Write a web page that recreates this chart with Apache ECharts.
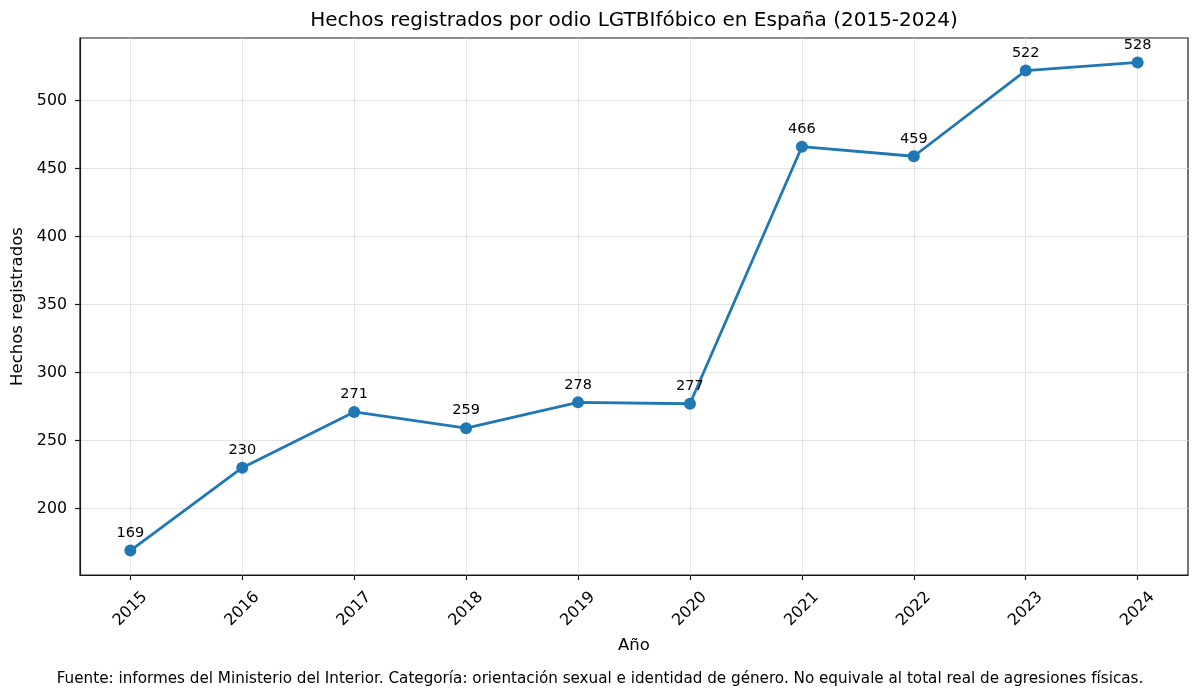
<!DOCTYPE html>
<html><head><meta charset="utf-8">
<script src="https://cdn.jsdelivr.net/npm/echarts@6/dist/echarts.min.js"></script>
<style>html,body{margin:0;padding:0;background:#fff}#c{width:1200px;height:700px}</style>
</head><body><div id="c"></div>
<script>
const years = [2015, 2016, 2017, 2018, 2019, 2020, 2021, 2022, 2023, 2024];
const values = [169, 230, 271, 259, 278, 277, 466, 459, 522, 528];
const yTicks = [200, 250, 300, 350, 400, 450, 500];
const titleText = 'Hechos registrados por odio LGTBIfóbico en España (2015-2024)';
const footText = 'Fuente: informes del Ministerio del Interior. Categoría: orientación sexual e identidad de género. No equivale al total real de agresiones físicas.';
const xName = 'Año';
const yName = 'Hechos registrados';

const font = 'DejaVu Sans';
const chart = echarts.init(document.getElementById('c'), null, {renderer: 'canvas'});
const xMin = years[0] - 0.45, xMax = years[years.length-1] + 0.45;
const vMin = Math.min(...values), vMax = Math.max(...values);
const pad = (vMax - vMin) * 0.05;
chart.setOption({
  animation: false,
  textStyle: {fontFamily: font},
  grid: {left: 80, right: 12, top: 38, bottom: 125, show: true, borderColor: '#1a1a1a', borderWidth: 1.2, containLabel: false, outerBoundsMode: 'none'},
  graphic: [
    {type: 'text', x: 634, y: 21, style: {text: titleText, font: '20px "DejaVu Sans"', fill: '#000', textAlign: 'center', textVerticalAlign: 'middle'}},
    {type: 'text', x: 600, y: 679, style: {text: footText, font: '15.2px "DejaVu Sans"', fill: '#000', textAlign: 'center', textVerticalAlign: 'middle'}}
  ],
  xAxis: {
    type: 'value', min: xMin, max: xMax,
    name: xName, nameLocation: 'middle', nameGap: 62,
    nameTextStyle: {fontSize: 16.5, color: '#000', fontFamily: font},
    axisLine: {show: true, onZero: false, lineStyle: {color: '#1a1a1a', width: 1.2}},
    axisTick: {show: true, inside: false, length: 5, lineStyle: {color: '#1a1a1a', width: 1.2}, customValues: years},
    axisLabel: {rotate: 45, align: 'center', verticalAlign: 'middle', fontSize: 16, color: '#000', fontFamily: font, margin: 34, customValues: years, formatter: v => String(v)},
    splitLine: {show: true, lineStyle: {color: '#e3e3e3', width: 1}}
  },
  yAxis: {
    type: 'value', min: vMin - pad, max: vMax + pad,
    name: yName, nameLocation: 'middle', nameGap: 51,
    nameTextStyle: {fontSize: 16.5, color: '#000', fontFamily: font},
    axisLine: {show: true, onZero: false, lineStyle: {color: '#1a1a1a', width: 1.2}},
    axisTick: {show: true, inside: false, length: 5, lineStyle: {color: '#1a1a1a', width: 1.2}, customValues: yTicks},
    axisLabel: {fontSize: 15.8, color: '#000', fontFamily: font, margin: 13, customValues: yTicks},
    splitLine: {show: true, lineStyle: {color: '#e3e3e3', width: 1}}
  },
  series: [{
    type: 'line',
    data: years.map((y, i) => [y, values[i]]),
    lineStyle: {color: '#1f77b4', width: 2.8},
    itemStyle: {color: '#1f77b4'},
    symbol: 'circle', symbolSize: 12,
    label: {show: true, position: 'top', distance: 4, fontSize: 14.5, color: '#000', fontFamily: font},
    z: 5
  }]
});
</script></body></html>
